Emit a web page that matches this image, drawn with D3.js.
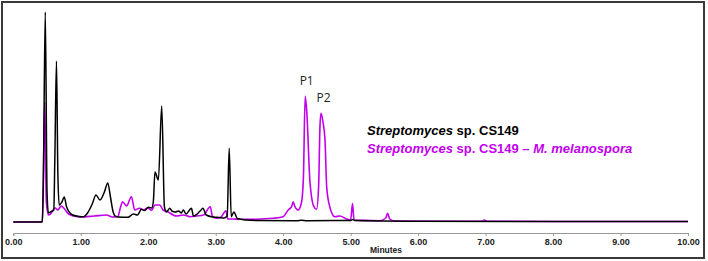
<!DOCTYPE html>
<html>
<head>
<meta charset="utf-8">
<script src="https://cdn.jsdelivr.net/npm/d3@7"></script>
<style>
  body { margin: 0; background: #fff; }
  .tick text { font-family: "Liberation Sans", Arial, sans-serif; font-weight: bold; font-size: 9px; fill: #222; }
  .axis path, .axis line { stroke: #999; }
</style>
</head>
<body>
<div id="chart"></div>
<script>
// chromatogram: Streptomyces sp. CS149 alone vs co-culture

// [minutes, signal] - black trace
const ctrlTrace = [
  [0.00, 0], [0.40, 0], [0.43, 0.5], [0.445, 40], [0.474, 210], [0.50, 30], [0.52, 9],
  [0.55, 10], [0.58, 11], [0.60, 12], [0.615, 60], [0.64, 161], [0.66, 50], [0.68, 17],
  [0.72, 20], [0.755, 25], [0.79, 15], [0.88, 7], [0.98, 5.5], [1.04, 5.3], [1.10, 9],
  [1.17, 18], [1.225, 27], [1.285, 22], [1.35, 30], [1.40, 39], [1.44, 25], [1.48, 10],
  [1.51, 6], [1.55, 5], [1.70, 4.7], [1.78, 8], [1.84, 7], [1.90, 12.7], [1.95, 11.5],
  [2.00, 14.7], [2.05, 14], [2.075, 20], [2.10, 50], [2.15, 42], [2.20, 116], [2.24, 15],
  [2.27, 10], [2.32, 13.7], [2.35, 11], [2.40, 10], [2.45, 11], [2.49, 9], [2.52, 12],
  [2.56, 8], [2.64, 13.7], [2.67, 6], [2.77, 11], [2.81, 13.7], [2.86, 7], [2.96, 5],
  [3.05, 4.5], [3.12, 4], [3.17, 6], [3.20, 73.7], [3.23, 5.3], [3.27, 10], [3.32, 3.5],
  [3.45, 2], [3.60, 1.5], [4.20, 1.3], [4.27, 1.8], [4.35, 1.3], [5.00, 1.5], [5.03, 2.5],
  [5.06, 1.5], [6.00, 0.8], [8.00, 0.5], [10.00, 0.5]
];

// [minutes, signal] - magenta trace (co-culture)
const coTrace = [
  [0.00, 0], [0.40, 0], [0.43, 0.5], [0.445, 40], [0.465, 120], [0.49, 20], [0.52, 7],
  [0.55, 8], [0.62, 14], [0.66, 12], [0.71, 16], [0.76, 13], [0.82, 8], [0.95, 5.3],
  [1.00, 5], [1.20, 6], [1.38, 7], [1.47, 5], [1.55, 5.5], [1.59, 15], [1.62, 20.3],
  [1.68, 16], [1.75, 25.3], [1.80, 12], [1.87, 13.7], [1.93, 12], [1.99, 14], [2.05, 11.7],
  [2.10, 17], [2.17, 17], [2.22, 12], [2.29, 10.3], [2.37, 7], [2.42, 6], [2.52, 7],
  [2.62, 5.3], [2.72, 6], [2.82, 7], [2.92, 15.3], [2.95, 6], [3.01, 3.7], [3.08, 5],
  [3.15, 11.3], [3.18, 3], [3.25, 3], [3.36, 2.7], [3.60, 2.8], [3.85, 3.7], [4.00, 5.3],
  [4.074, 12], [4.124, 15.3], [4.148, 20.3], [4.17, 16], [4.22, 12], [4.27, 19],
  [4.30, 45], [4.326, 126], [4.35, 110], [4.395, 42], [4.455, 15.3], [4.495, 12.7],
  [4.525, 35], [4.545, 95], [4.56, 108.7], [4.59, 100], [4.62, 82], [4.645, 35],
  [4.69, 15.3], [4.72, 9], [4.765, 5.3], [4.84, 6], [4.94, 3], [5.00, 2], [5.028, 18.5],
  [5.05, 2], [5.28, 1.5], [5.43, 1.3], [5.52, 4], [5.547, 8.7], [5.58, 3], [5.65, 1],
  [6.00, 0.8], [6.95, 0.8], [6.98, 2], [7.02, 0.8], [8.00, 0.5], [10.00, 0.5]
];

const tickValues = [0, 1, 2, 3, 4, 5, 6, 7, 8, 9, 10];
const peakNames = ["P1", "P2"];
const peakTimes = [4.326, 4.56];
const legendNames = [
  ["Streptomyces", " sp. CS149"],
  ["Streptomyces", " sp. CS149 \u2013 ", "M. melanospora"]
];

const width = 708;
const height = 261;
const black = "#000";
const magenta = "#c200ea";

const svg = d3.select("#chart").append("svg")
  .attr("width", width)
  .attr("height", height);

svg.append("rect")
  .attr("x", 2).attr("y", 2)
  .attr("width", 702).attr("height", 256)
  .attr("fill", "#fff")
  .attr("stroke", "#3a3a3a")
  .attr("stroke-width", 2);

const xScale = d3.scaleLinear().domain([0, 10]).range([13.3, 688]);
const yScale = d3.scaleLinear().domain([0, 210]).range([222, 12]);

svg.append("g")
  .attr("class", "axis")
  .attr("transform", "translate(0, 233)")
  .call(d3.axisBottom(xScale)
    .tickValues(tickValues)
    .tickSize(3)
    .tickPadding(3)
    .tickFormat(d3.format(".2f")));

svg.append("text")
  .attr("x", 386)
  .attr("y", 253)
  .attr("text-anchor", "middle")
  .attr("font-family", "Liberation Sans, Arial, sans-serif")
  .attr("font-weight", "bold")
  .attr("font-size", 8.5)
  .attr("fill", "#222")
  .text("Minutes");

const line = d3.line()
  .x(d => xScale(d[0]))
  .y(d => yScale(d[1]))
  .curve(d3.curveMonotoneX);

svg.append("path")
  .datum(coTrace)
  .attr("fill", "none")
  .attr("stroke", magenta)
  .attr("stroke-width", 1.6)
  .attr("d", line);

svg.append("path")
  .datum(ctrlTrace)
  .attr("fill", "none")
  .attr("stroke", black)
  .attr("stroke-width", 1.5)
  .attr("d", line);

// peak labels above the co-culture peaks
peakNames.forEach((name, i) => {
  const pk = coTrace.find(d => d[0] === peakTimes[i]);
  svg.append("text")
    .attr("x", xScale(pk[0]) + (i === 0 ? 1.5 : 2.5))
    .attr("y", yScale(pk[1]) - 11)
    .attr("text-anchor", "middle")
    .attr("font-family", "Open Sans, sans-serif")
    .attr("font-size", 12)
    .attr("fill", "#222")
    .text(name);
});

const legend = svg.append("g")
  .attr("transform", "translate(367, 135)");

legendNames.forEach((parts, i) => {
  const t = legend.append("text")
    .attr("y", i * 17.5)
    .attr("font-family", "Liberation Sans, Arial, sans-serif")
    .attr("font-weight", "bold")
    .attr("font-size", 13)
    .attr("fill", i === 0 ? black : magenta);
  parts.forEach((p, j) => {
    t.append("tspan")
      .attr("font-style", j % 2 === 0 ? "italic" : "normal")
      .text(p);
  });
});
</script>
</body>
</html>
